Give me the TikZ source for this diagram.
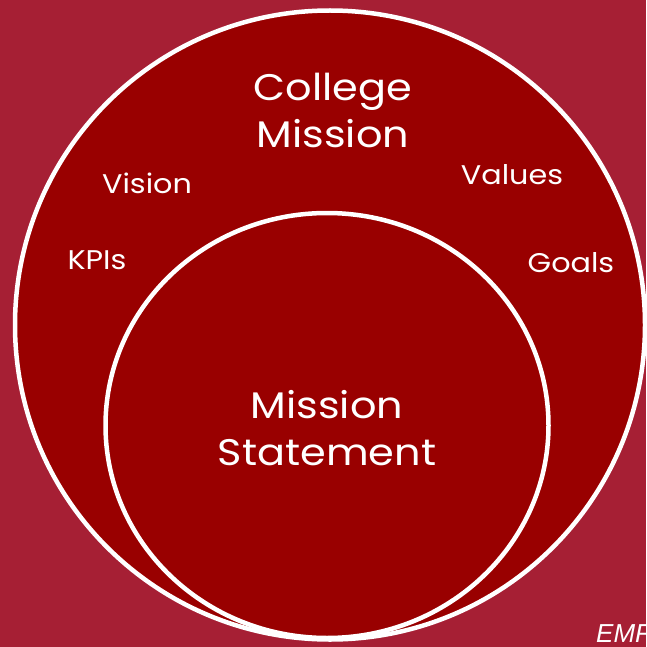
\documentclass[tikz,border=0pt]{standalone}
\usepackage{fontspec}
\setmainfont{Poppins}[FakeStretch=1.12]
\newfontfamily\emffont{Liberation Sans}
\definecolor{bgred}{HTML}{A61F34}
\definecolor{fillred}{HTML}{990000}
\begin{document}
\begin{tikzpicture}[x=1pt,y=-1pt,
  ring/.style={draw=white,line width=4.5pt,fill=fillred},
  big/.style={text=white,font=\fontsize{37}{47}\selectfont,align=center},
  small/.style={text=white,font=\fontsize{27}{32}\selectfont}]
\fill[bgred] (0,0) rectangle (646,647);
\useasboundingbox (0,0) rectangle (646,647);
\draw[ring] (330,325) ellipse [x radius=315, y radius=314.5];
\draw[ring] (327,425.5) ellipse [x radius=221.5, y radius=212.5];
\node[big] (college) at (333,110) {College\\Mission};
\node[big] (mission) at (327,428) {Mission\\Statement};
\node[small] (vision) at (147,183) {Vision};
\node[small] (values) at (512,175) {Values};
\node[small] (kpis) at (97,260) {KPIs};
\node[small] (goals) at (571,263) {Goals};
\node[text=white,font=\emffont\itshape\fontsize{26}{30}\selectfont,anchor=base west,inner sep=0pt] (emf) at (596,642) {EMF};
\end{tikzpicture}
\end{document}
